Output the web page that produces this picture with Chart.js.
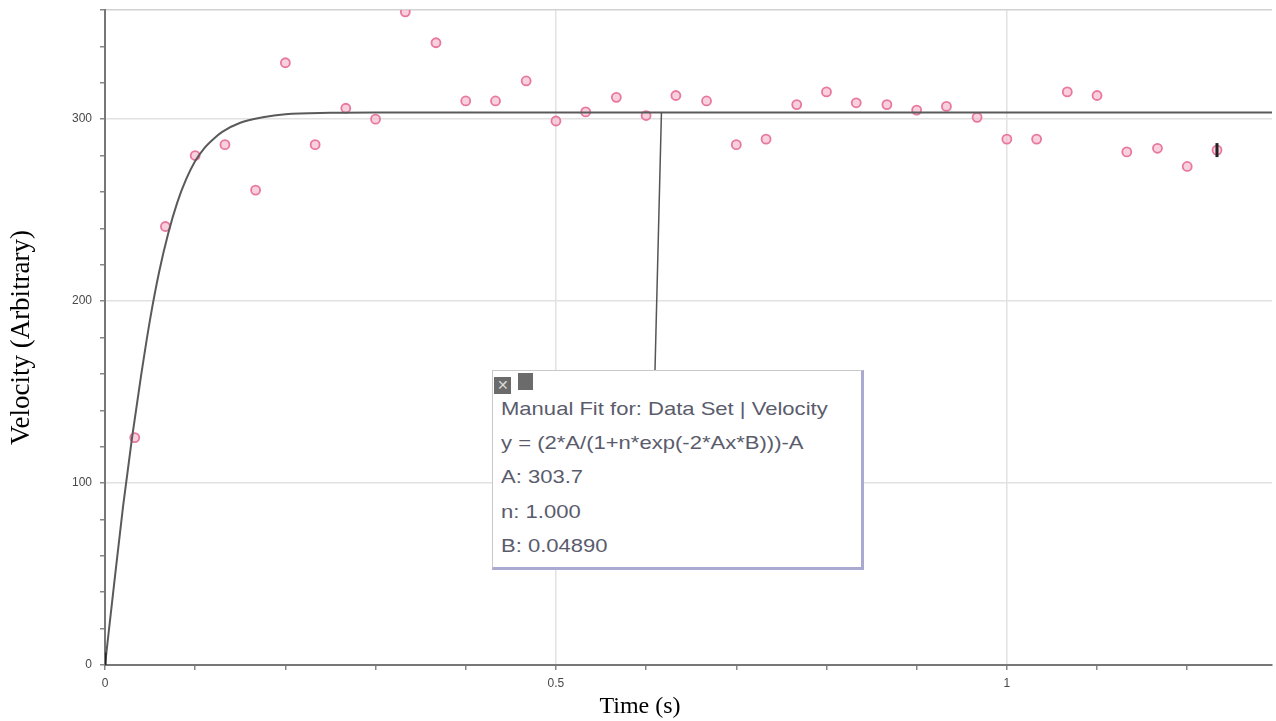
<!DOCTYPE html>
<html lang="en">
<head>
    <meta charset="UTF-8">
    <title>Velocity vs Time - Manual Fit</title>
    <script src="https://cdn.jsdelivr.net/npm/chart.js@4.4.0/dist/chart.umd.min.js"></script>
    <style>
        body { margin: 0; background: #fff; overflow: hidden; }
        #wrap { position: relative; width: 1276px; height: 721px; overflow: hidden; }
        #xTitle {
            position: absolute; left: 0; width: 1280px; top: 692px; text-align: center;
            font-family: "Liberation Serif", "Times New Roman", serif; font-size: 24px; color: #000;
        }
        #fitBox {
            position: absolute; left: 492px; top: 370px; width: 368px; height: 196px;
            background: #fff; border: 1px solid #c9c9c9;
            border-right: 3px solid #a9a9d2; border-bottom: 3px solid #a9a9d2;
            font-family: "Liberation Sans", Arial, sans-serif; color: #5a5c6c;
        }
        #fitBox .icons { position: absolute; left: 1px; top: 2px; }
        #fitBox .icons span {
            display: inline-block; width: 17px; height: 17px; background: #6b6b6b;
            margin-right: 7px; color: #d8d8d8; font-size: 14px; line-height: 17px; text-align: center;
        }
        #fitBox .line {
            position: absolute; left: 8px; font-size: 19px; white-space: nowrap;
            transform: scaleX(1.16); transform-origin: left center;
        }
    </style>
</head>
<body>
<div id="wrap">
    <canvas id="chart" width="1282" height="721"></canvas>
    <div id="xTitle">Time (s)</div>
    <div id="fitBox">
        <div class="icons"><span>&#x2715;</span><span style="width:15px"></span></div>
        <div class="line" style="top:27px">Manual Fit for: Data Set | Velocity</div>
        <div class="line" style="top:61px">y = (2*A/(1+n*exp(-2*Ax*B)))-A</div>
        <div class="line" style="top:95px">A: 303.7</div>
        <div class="line" style="top:130px">n: 1.000</div>
        <div class="line" style="top:164px">B: 0.04890</div>
    </div>
</div>
<script>
    // measured data (video frames, 30 fps)
    const times = [0.033, 0.067, 0.100, 0.133, 0.167, 0.200, 0.233, 0.267, 0.300, 0.333,
                   0.367, 0.400, 0.433, 0.467, 0.500, 0.533, 0.567, 0.600, 0.633, 0.667,
                   0.700, 0.733, 0.767, 0.800, 0.833, 0.867, 0.900, 0.933, 0.967, 1.000,
                   1.033, 1.067, 1.100, 1.133, 1.167, 1.200, 1.233];
    const velocity = [125, 241, 280, 286, 261, 331, 286, 306, 300, 359,
                      342, 310, 310, 321, 299, 304, 312, 302, 313, 310,
                      286, 289, 308, 315, 309, 308, 305, 307, 301, 289,
                      289, 315, 313, 282, 284, 274, 283];

    // manual fit curve
    const fitTimes = [0, 0.01, 0.02, 0.03, 0.04, 0.05, 0.06, 0.07, 0.08, 0.09, 0.10, 0.11, 0.12,
                      0.13, 0.15, 0.175, 0.20, 0.25, 0.30, 1.294];
    const fitValues = [0, 44, 87, 125, 159, 190, 216, 237, 254, 267, 277, 284, 289,
                       293, 298, 301, 302.7, 303.5, 303.7, 303.7];
    const fitA = 303.7;
    const fitLabelTime = 0.617;

    // selection brackets at start and end of range
    const bracketTimes = [0, 1.233];
    const bracketValues = [3, 283];

    const xMax = 1.294;
    const yMax = 360;

    const isMult = (v, step) => Math.abs(v / step - Math.round(v / step)) < 1e-6;

    const leaderPlugin = {
        id: 'leader',
        afterDatasetsDraw(chart) {
            const { ctx, scales } = chart;
            const box = document.getElementById('fitBox');
            ctx.save();
            ctx.strokeStyle = '#555';
            ctx.lineWidth = 1.5;
            ctx.beginPath();
            ctx.moveTo(scales.x.getPixelForValue(fitLabelTime), scales.y.getPixelForValue(fitA));
            ctx.lineTo(box.offsetLeft + 163, box.offsetTop);
            ctx.stroke();
            ctx.restore();
        }
    };

    new Chart(document.getElementById('chart'), {
        type: 'scatter',
        data: {
            datasets: [
                {
                    label: 'Brackets',
                    data: bracketTimes.map((t, i) => ({ x: t, y: bracketValues[i] })),
                    pointStyle: 'line',
                    rotation: 90,
                    pointRadius: 7,
                    borderColor: '#222',
                    borderWidth: 3
                },
                {
                    label: 'Manual Fit',
                    data: fitTimes.map((t, i) => ({ x: t, y: fitValues[i] })),
                    showLine: true,
                    cubicInterpolationMode: 'monotone',
                    borderColor: '#5a5a5a',
                    borderWidth: 2,
                    pointRadius: 0
                },
                {
                    label: 'Velocity',
                    data: times.map((t, i) => ({ x: t, y: velocity[i] })),
                    pointRadius: 4.5,
                    borderWidth: 1.8,
                    borderColor: '#e8789e',
                    backgroundColor: 'rgba(244,176,200,0.6)'
                }
            ]
        },
        options: {
            responsive: false,
            animation: false,
            layout: { padding: { top: 9, right: 0, left: 0, bottom: 0 } },
            plugins: { legend: { display: false }, tooltip: { enabled: false } },
            scales: {
                x: {
                    type: 'linear', min: 0, max: xMax,
                    afterFit: s => { s.height = 56; s.paddingLeft = 0; s.paddingRight = 0; },
                    ticks: {
                        stepSize: 0.1, autoSkip: false, maxRotation: 0, padding: 6,
                        color: '#484848', font: { family: 'Liberation Sans', size: 12 },
                        callback: v => isMult(v, 0.5) ? String(Number(v.toFixed(1))) : ''
                    },
                    grid: {
                        lineWidth: 1.5, tickLength: 5,
                        color: c => c.tick && isMult(c.tick.value, 0.5) ? '#e2e2e2' : 'rgba(0,0,0,0)',
                        tickColor: c => c.tick && isMult(c.tick.value, 0.1) ? '#888' : 'rgba(0,0,0,0)'
                    },
                    border: { color: '#777', width: 2 }
                },
                y: {
                    min: 0, max: yMax,
                    afterFit: s => { s.width = 105; s.paddingTop = 0; s.paddingBottom = 0; },
                    ticks: {
                        stepSize: 20, autoSkip: false, padding: 8,
                        color: '#484848', font: { family: 'Liberation Sans', size: 12 },
                        callback: v => isMult(v, 100) ? String(v) : ''
                    },
                    grid: {
                        lineWidth: 1.5, tickLength: 5,
                        color: c => {
                            if (!c.tick) return 'rgba(0,0,0,0)';
                            if (c.tick.value === yMax) return '#d2d2d2';
                            return isMult(c.tick.value, 100) ? '#e2e2e2' : 'rgba(0,0,0,0)';
                        },
                        tickColor: '#888'
                    },
                    border: { color: '#777', width: 2 },
                    title: {
                        display: true, text: 'Velocity (Arbitrary)', color: '#000',
                        font: { family: 'Liberation Serif', size: 27 },
                        padding: { top: 6, bottom: 0 }
                    }
                }
            }
        },
        plugins: [leaderPlugin]
    });
</script>
</body>
</html>
